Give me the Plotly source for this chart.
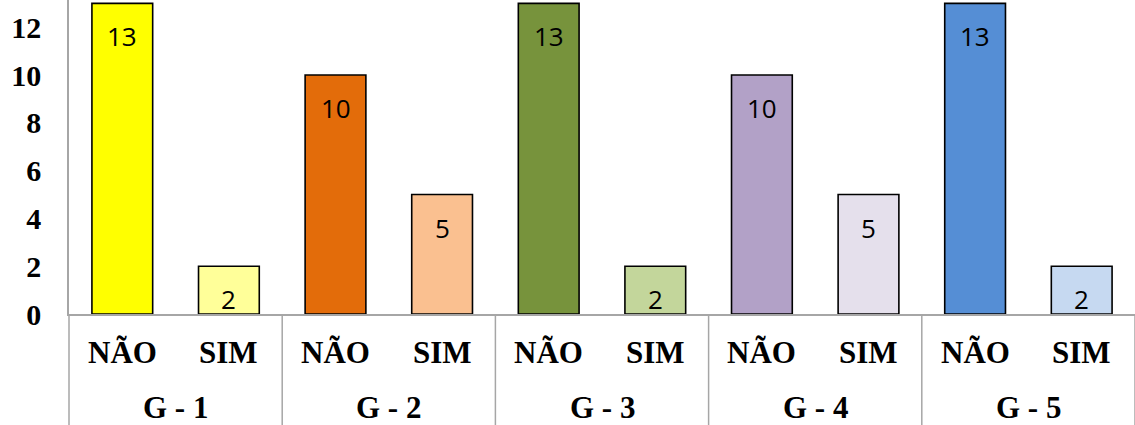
import plotly.graph_objects as go

groups = ["G - 1", "G - 2", "G - 3", "G - 4", "G - 5"]
answers = ["NÃO", "SIM"]
nao_values = [13, 10, 13, 10, 13]
sim_values = [2, 5, 2, 5, 2]
nao_colors = ["#FFFF00", "#E36C0A", "#77933C", "#B2A1C7", "#558ED5"]
sim_colors = ["#FFFF99", "#FAC090", "#C3D69B", "#E5E0EC", "#C6D9F1"]

outer, inner, values, colors = [], [], [], []
for g, n, s, cn, cs in zip(groups, nao_values, sim_values, nao_colors, sim_colors):
    outer += [g, g]
    inner += answers
    values += [n, s]
    colors += [cn, cs]

W, H = 1135, 425
M_LEFT, M_BOTTOM = 69, 111
PLOT_H = H - M_BOTTOM
AXIS_GREY = "#A6A6A6"
serif_bold = dict(family="Liberation Serif", size=31, color="#000000", weight="bold")

fig = go.Figure(
    go.Bar(
        x=[outer, inner],
        y=values,
        marker=dict(color=colors, line=dict(color="#000000", width=1.6)),
        width=0.57,
        showlegend=False,
    )
)

# value labels just below the top of each bar
for o, i, v in zip(outer, inner, values):
    fig.add_annotation(
        x=(o, i),
        y=v,
        text=str(v),
        showarrow=False,
        yshift=-33,
        font=dict(family="Open Sans", size=26, color="#000000"),
    )

# two-level category table under the axis
n_groups = len(groups)
for k, g in enumerate(groups):
    for a in answers:
        fig.add_annotation(
            x=(g, a), y=0, yref="paper", xanchor="center", yanchor="middle",
            yshift=-38, text=a, showarrow=False, font=serif_bold,
        )
    fig.add_annotation(
        x=(k + 0.5) / n_groups, xref="paper", y=0, yref="paper",
        xanchor="center", yanchor="middle",
        yshift=-93, text=g, showarrow=False, font=serif_bold,
    )

for k in range(n_groups + 1):
    fig.add_shape(
        type="line", xref="paper", yref="paper",
        x0=k / n_groups, x1=k / n_groups, y0=0, y1=-M_BOTTOM / PLOT_H,
        line=dict(color=AXIS_GREY, width=1.5),
    )

fig.update_layout(
    width=W,
    height=H,
    margin=dict(l=M_LEFT, r=0, t=0, b=M_BOTTOM),
    paper_bgcolor="white",
    plot_bgcolor="white",
)

fig.update_xaxes(
    type="multicategory",
    showline=True,
    linecolor=AXIS_GREY,
    linewidth=1.5,
    showgrid=False,
    ticks="",
    showticklabels=False,
    showdividers=False,
)

fig.update_yaxes(
    range=[0, 13.14],
    showline=True,
    linecolor=AXIS_GREY,
    linewidth=1.5,
    showgrid=False,
    zeroline=False,
    ticks="",
    tickvals=[0, 2, 4, 6, 8, 10, 12],
    ticklabelstandoff=20,
    tickfont=dict(family="Liberation Serif", size=30, color="#000000", weight="bold"),
)

fig.write_html("out.html")
